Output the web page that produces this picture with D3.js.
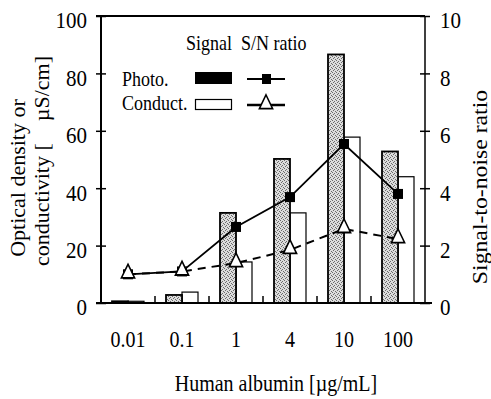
<!DOCTYPE html>
<html><head><meta charset="utf-8">
<script src="https://cdn.jsdelivr.net/npm/d3@7"></script>
</head>
<body style="margin:0;background:#fff">
<svg id="chart" width="491" height="399" font-family="Liberation Serif"></svg>
<script>
const categories = ["0.01", "0.1", "1", "4", "10", "100"];
const photoSignal = [0.6, 2.8, 31.4, 50.2, 86.6, 52.8];
const conductSignal = [0.6, 3.8, 14.3, 31.4, 57.8, 44.0];
const photoSN = [1.0, 1.1, 2.65, 3.69, 5.54, 3.80];
const conductSN = [1.0, 1.1, 1.39, 1.85, 2.58, 2.23];
const leftTicks = [0, 20, 40, 60, 80, 100];
const rightTicks = [0, 2, 4, 6, 8, 10];

const FONT = "Liberation Serif";
const SY = 1.13; // tall type of the original
const svg = d3.select("#chart");
const L = 101, R = 425, T = 16, B = 303;
const x = d3.scaleBand().domain(categories).range([L, R]).padding(0);
const yL = d3.scaleLinear().domain([0, 100]).range([B, T]);
const yR = d3.scaleLinear().domain([0, 10]).range([B, T]);
const bw = 16;

// pattern for stippled bars
const defs = svg.append("defs");
const pat = defs.append("pattern").attr("id", "stip").attr("patternUnits", "userSpaceOnUse")
  .attr("width", 4).attr("height", 4);
pat.append("rect").attr("width", 4).attr("height", 4).attr("fill", "#dcdcdc");
[[0,0],[2,1],[1,2],[3,3]].forEach(([a,b]) => pat.append("rect").attr("x", a).attr("y", b)
  .attr("width", 1).attr("height", 1).attr("fill", "#6a6a6a"));

const cx = c => x(c) + x.bandwidth() / 2;

// bars
svg.append("g").selectAll("rect").data(categories).join("rect")
  .attr("x", (c) => cx(c))
  .attr("y", (c, i) => yL(conductSignal[i]))
  .attr("width", bw)
  .attr("height", (c, i) => B - yL(conductSignal[i]))
  .attr("fill", "#fff").attr("stroke", "#000").attr("stroke-width", 1.2);
svg.append("g").selectAll("rect").data(categories).join("rect")
  .attr("x", (c) => cx(c) - bw)
  .attr("y", (c, i) => yL(photoSignal[i]))
  .attr("width", bw)
  .attr("height", (c, i) => B - yL(photoSignal[i]))
  .attr("fill", "url(#stip)").attr("stroke", "#000").attr("stroke-width", 1.8);

// frame lines
svg.append("line").attr("x1", L - 5).attr("x2", R).attr("y1", T).attr("y2", T)
  .attr("stroke", "#000").attr("stroke-width", 2);
svg.append("line").attr("x1", L).attr("x2", L).attr("y1", T).attr("y2", B)
  .attr("stroke", "#000").attr("stroke-width", 2);
svg.append("line").attr("x1", R).attr("x2", R).attr("y1", T).attr("y2", B)
  .attr("stroke", "#000").attr("stroke-width", 1.5);
svg.append("line").attr("x1", L - 5).attr("x2", R + 7).attr("y1", B).attr("y2", B)
  .attr("stroke", "#000").attr("stroke-width", 2.2);

// left axis
const gl = svg.append("g").attr("transform", `translate(${L},0)`)
  .call(d3.axisLeft(yL).tickValues(leftTicks).tickSize(5).tickPadding(9));
gl.attr("font-family", FONT).attr("font-size", 21);
gl.select(".domain").remove();
gl.selectAll(".tick line").attr("x1", 5).attr("stroke-width", 1.5);
gl.selectAll(".tick text").attr("dy", "0.5em").attr("font-family", FONT)
  .attr("transform", `scale(1,${SY})`);

// right axis
const gr = svg.append("g").attr("transform", `translate(${R},0)`)
  .call(d3.axisRight(yR).tickValues(rightTicks).tickSize(5).tickPadding(10));
gr.attr("font-family", FONT).attr("font-size", 21);
gr.select(".domain").remove();
gr.selectAll(".tick line").attr("x1", -5).attr("stroke-width", 1.5);
gr.selectAll(".tick text").attr("dy", "0.5em").attr("font-family", FONT)
  .attr("transform", `scale(1,${SY})`);

// bottom axis (category labels) + boundary ticks
const gb = svg.append("g").attr("transform", `translate(0,${B})`)
  .call(d3.axisBottom(x).tickSize(0).tickPadding(25));
gb.attr("font-family", FONT).attr("font-size", 20);
gb.select(".domain").remove();
gb.selectAll(".tick text").attr("font-family", FONT).attr("transform", `scale(1,${SY})`);
svg.append("g").selectAll("line").data(categories.slice(1)).join("line")
  .attr("x1", c => x(c)).attr("x2", c => x(c))
  .attr("y1", B).attr("y2", B - 7).attr("stroke", "#000").attr("stroke-width", 1.5);

// lines
const lineP = d3.line().x((d, i) => cx(categories[i])).y(d => yR(d));
svg.append("path").datum(conductSN).attr("d", lineP).attr("fill", "none")
  .attr("stroke", "#000").attr("stroke-width", 2).attr("stroke-dasharray", "8,6");
svg.append("path").datum(photoSN).attr("d", lineP).attr("fill", "none")
  .attr("stroke", "#000").attr("stroke-width", 1.8);

// markers
svg.append("g").selectAll("rect").data(photoSN).join("rect")
  .attr("x", (d, i) => cx(categories[i]) - 5).attr("y", d => yR(d) - 5)
  .attr("width", 10).attr("height", 10).attr("fill", "#000");
const tri = d3.symbol().type(d3.symbolTriangle).size(75);
svg.append("g").selectAll("path").data(conductSN).join("path")
  .attr("d", tri)
  .attr("transform", (d, i) => `translate(${cx(categories[i])},${yR(d) - 1}) scale(1,1.2)`)
  .attr("fill", "#fff").attr("stroke", "#000").attr("stroke-width", 1.5);

// legend
const lg = svg.append("g").attr("font-family", FONT).attr("font-size", 18);
const ltext = (px, py, s) => lg.append("text").attr("transform", `translate(${px},${py}) scale(1,${SY})`).text(s);
ltext(186, 50, "Signal\u00a0\u00a0S/N ratio");
ltext(122, 86, "Photo.");
ltext(122, 110, "Conduct.");
lg.append("rect").attr("x", 195).attr("y", 72).attr("width", 37).attr("height", 12).attr("fill", "#000");
lg.append("rect").attr("x", 195.5).attr("y", 99.5).attr("width", 36).attr("height", 10)
  .attr("fill", "#fff").attr("stroke", "#000").attr("stroke-width", 1.2);
lg.append("line").attr("x1", 247).attr("x2", 285).attr("y1", 79).attr("y2", 79)
  .attr("stroke", "#000").attr("stroke-width", 1.8);
lg.append("rect").attr("x", 262).attr("y", 74).attr("width", 9).attr("height", 10).attr("fill", "#000");
lg.append("line").attr("x1", 247).attr("x2", 285).attr("y1", 105).attr("y2", 105)
  .attr("stroke", "#000").attr("stroke-width", 2.5);
lg.append("path").attr("d", tri).attr("transform", "translate(266,104) scale(1,1.2)")
  .attr("fill", "#fff").attr("stroke", "#000").attr("stroke-width", 1.5);

// axis titles
const ttl = svg.append("g").attr("font-family", FONT);
ttl.append("text").attr("transform", `translate(276,391) scale(1,${SY})`).attr("text-anchor", "middle")
  .attr("font-size", 20).text("Human albumin [\u00b5g/mL]");
ttl.append("text").attr("transform", "translate(25,178) rotate(-90) scale(1.1,1)").attr("text-anchor", "middle")
  .attr("font-size", 20).text("Optical density or");
ttl.append("text").attr("transform", "translate(49,161) rotate(-90) scale(1.1,1)").attr("text-anchor", "middle")
  .attr("font-size", 20).text("conductivity [\u00a0\u00a0\u00a0\u00a0\u00b5S/cm]");
ttl.append("text").attr("transform", "translate(487,187) rotate(-90) scale(1.13,1)").attr("text-anchor", "middle")
  .attr("font-size", 21).text("Signal-to-noise ratio");
</script>
</body></html>
